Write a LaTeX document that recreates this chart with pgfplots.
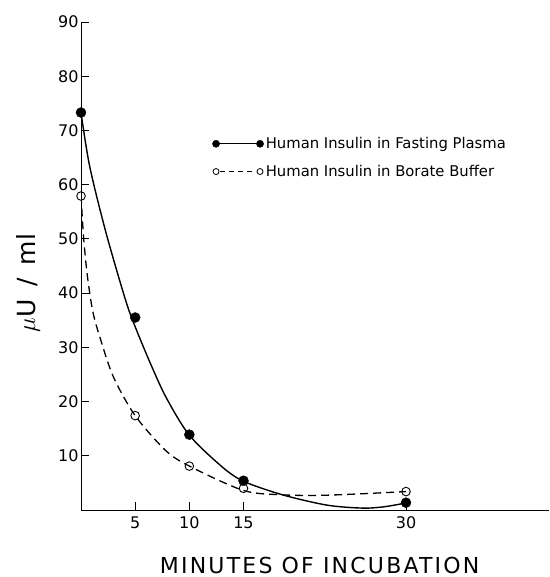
\documentclass[border=0pt]{standalone}
\usepackage{fontspec}
\setmainfont{DejaVu Sans}
\usepackage{pgfplots}
\pgfplotsset{compat=1.18}

% fitted curves
\pgfplotstableread{
x y
0 73.3
0.8 63.4
2.3 51.2
4.1 38.8
5 33.8
6.5 26.6
7.9 20.6
10 13.8
13 8.0
15 5.3
18.6 2.8
22.7 0.9
26 0.35
28 0.6
30 1.3
}\plasmafit
\pgfplotstableread{
x y
0 58
0.25 50
0.6 43
1.1 36.5
1.8 31.5
3 24.5
5 17.4
7.8 11.0
10 8.1
15 3.6
18.6 2.8
22 2.7
26 3.0
30 3.4
}\boratefit

\begin{document}
\begin{tikzpicture}
\begin{axis}[
  scale only axis,
  width=468pt, height=488pt,
  xmin=0, xmax=43.2,
  ymin=0, ymax=90,
  axis lines*=left,
  axis line style={line width=1pt},
  xtick={5,10,15,30},
  ytick={10,20,...,90},
  tick align=inside,
  major tick length=8pt,
  tick style={black, line width=0.9pt},
  /pgf/number format/assume math mode=true,
  ticklabel style={font=\fontsize{16}{16}\selectfont},
  xticklabel style={yshift=-3pt},
  yticklabel style={xshift=1pt},
  xlabel={MINUTES OF INCUBATION},
  xlabel style={at={(axis description cs:0.51,-0.113)}, anchor=center, inner sep=0pt,
    font=\fontsize{22}{22}\selectfont\addfontfeature{LetterSpace=10}},
  ylabel={$\mu$U\hspace{13pt}/\hspace{13pt}ml},
  ylabel style={at={(axis description cs:-0.113,0.465)}, anchor=center,
    font=\fontsize{25}{25}\selectfont},
  legend style={draw=none, fill=none, at={(axis description cs:0.28,0.768)},
    anchor=north west, font=\fontsize{14.8}{14.8}\selectfont,
    row sep=11pt, inner sep=0pt},
  legend cell align=left,
]
\addlegendimage{legend image code/.code={
  \draw[line width=1.2pt] (0pt,0pt) -- (44pt,0pt);
  \fill (0pt,0pt) circle (3.6pt);
  \fill (44pt,0pt) circle (3.6pt);}}
\addlegendentry{Human Insulin in Fasting Plasma}
\addlegendimage{legend image code/.code={
  \draw[line width=1.1pt, dash pattern=on 5pt off 4pt] (4pt,0pt) -- (40pt,0pt);
  \draw[line width=0.8pt, fill=white] (0pt,0pt) circle (3pt);
  \draw[line width=0.8pt, fill=white] (44pt,0pt) circle (3pt);}}
\addlegendentry{Human Insulin in Borate Buffer}

\addplot[black, line width=1.4pt, smooth, forget plot] table {\plasmafit};
\addplot[black, line width=1.3pt, smooth, dash pattern=on 8pt off 5pt, forget plot] table {\boratefit};

\addplot[only marks, mark=*, mark size=5pt, black, forget plot] coordinates {
  (0,73.3) (5,35.5) (10,13.9) (15,5.4) (30,1.35)
};
\addplot[only marks, mark=o, mark size=4.3pt, black, line width=0.9pt,
  mark options={fill=white}, forget plot] coordinates {
  (0,57.9) (5,17.4) (10,8.1) (15,4.0) (30,3.4)
};
\end{axis}
\pgfresetboundingbox
\useasboundingbox ([xshift=-81pt,yshift=-67pt]current axis.south west)
  rectangle ([yshift=22pt]current axis.north east);
\end{tikzpicture}
\end{document}
